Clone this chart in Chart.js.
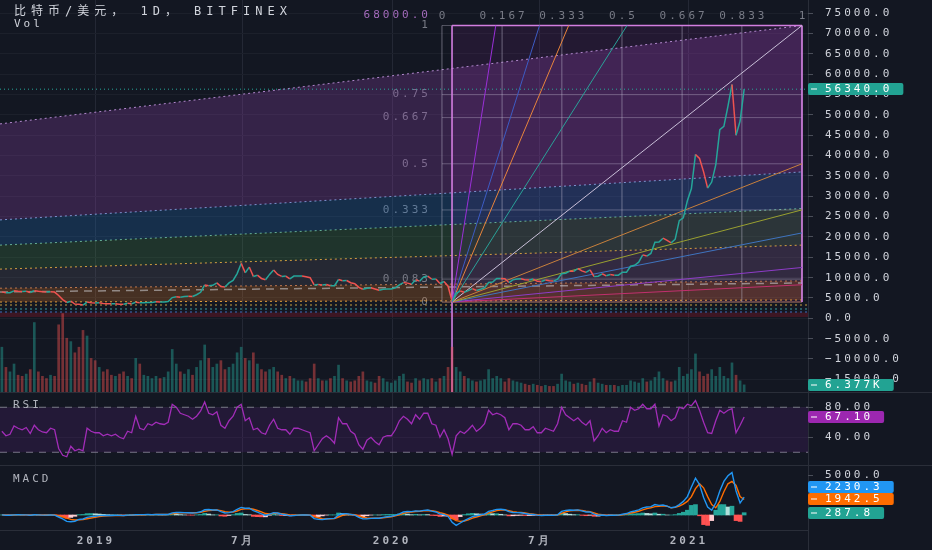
<!DOCTYPE html>
<html>
<head>
<meta charset="utf-8">
<script src="https://cdn.jsdelivr.net/npm/chart.js@4.4.1/dist/chart.umd.min.js"></script>
<style>
  html, body { margin: 0; padding: 0; width: 932px; height: 550px; overflow: hidden; background: #131722; }
  canvas { position: absolute; left: 0; }
  .sep { position: absolute; background: #2a2e39; }
</style>
</head>
<body>
<div class="sep" style="left:0;top:392px;width:932px;height:1px"></div>
<div class="sep" style="left:0;top:465px;width:932px;height:1px"></div>
<div class="sep" style="left:0;top:530px;width:808px;height:1px"></div>
<div class="sep" style="left:808px;top:0;width:1px;height:550px"></div>
<canvas id="main" width="932" height="392" style="top:0"></canvas>
<canvas id="rsi" width="932" height="72" style="top:393px"></canvas>
<canvas id="macd" width="932" height="84" style="top:466px"></canvas>

<script>
// ---- data (one sample every 5 days, day 0 = 2019-01-01) ----
const START_DAY = -116;
const STEP = 5;
const X_MIN = -118.3, X_MAX = 877.7;

const timeTicks = [0, 181, 365, 547, 731];
const timeLabels = ['2019', '7月', '2020', '7月', '2021'];
const priceTicks = [75000, 70000, 65000, 60000, 55000, 50000, 45000, 40000, 35000, 30000,
  25000, 20000, 15000, 10000, 5000, 0, -5000, -10000, -15000];
const rsiTicks = [80, 40];
const macdTicks = [5000];

const closes = [
  6500, 6300, 6300, 6750, 6650, 6600, 6650, 6350, 6800, 6650,
  6550, 6480, 6550, 6450, 5600, 4600, 3900, 4200, 3500, 3450,
  3250, 4000, 3850, 3750, 3850, 3650, 3600, 3550, 3600, 3480,
  3450, 3680, 3600, 3950, 3800, 3850, 3900, 3900, 4050, 4000,
  4000, 4150, 5100, 5300, 5200, 5350, 5450, 5350, 5800, 6400,
  8200, 8000, 8100, 8700, 7800, 7700, 8700, 9300, 11000, 13500,
  11200, 12600, 10300, 10600, 9800, 9500, 10800, 11900, 10800, 10300,
  10400, 9700, 10400, 10400, 10400, 10200, 10000, 8200, 8300, 8200,
  8300, 8000, 8000, 9550, 9250, 9300, 8750, 8500, 7600, 7150,
  7400, 7500, 7200, 6900, 7150, 7200, 7200, 7500, 8200, 8800,
  8650, 8400, 9500, 9150, 10150, 10350, 9600, 9650, 8550, 9050,
  7900, 4200, 6200, 6700, 6400, 6800, 7300, 6850, 7150, 7500,
  8800, 8900, 9800, 9800, 9750, 8800, 9450, 9650, 9750, 9450,
  9400, 9650, 9100, 9050, 9400, 9250, 9150, 9600, 10950, 11100,
  11600, 11550, 12250, 11650, 11300, 11900, 10250, 10350, 10950, 10450,
  10750, 10600, 10600, 11350, 11350, 12800, 13050, 13800, 15600, 15300,
  15950, 18700, 18750, 19700, 19150, 18550, 19450, 24000, 24700, 28900,
  31900, 40300, 39300, 36000, 32000, 33500, 37700, 46400, 47200, 52100,
  57500, 45000, 48500, 56340
];

// volume in K
const volumes = [
  40, 22, 18, 25, 15, 14, 16, 20, 62, 18,
  14, 12, 15, 14, 60, 70, 48, 45, 35, 40,
  55, 50, 30, 28, 22, 18, 20, 15, 14, 16,
  18, 14, 12, 30, 25, 15, 14, 12, 14, 12,
  13, 18, 38, 25, 18, 16, 20, 15, 22, 28,
  42, 30, 22, 25, 28, 20, 22, 25, 35, 40,
  30, 28, 35, 25, 20, 18, 20, 22, 18, 15,
  12, 14, 12, 10, 10, 9, 12, 25, 12, 10,
  10, 12, 14, 24, 12, 10, 9, 10, 14, 18,
  10, 9, 8, 14, 12, 9, 8, 10, 14, 16,
  9, 8, 12, 10, 12, 11, 12, 9, 12, 14,
  22, 40, 22, 18, 14, 12, 10, 9, 10, 11,
  20, 12, 14, 12, 9, 12, 10, 9, 8, 7,
  6, 7, 6, 5, 6, 5, 5, 7, 16, 10,
  9, 7, 8, 7, 6, 9, 12, 8, 7, 6,
  6, 6, 5, 6, 6, 10, 9, 8, 12, 9,
  10, 13, 18, 12, 10, 9, 10, 22, 14, 16,
  20, 34, 18, 14, 16, 20, 14, 22, 14, 12,
  26, 15, 10, 6.377
];

const rsi = [
  48, 42, 44, 55, 52, 50, 53, 45, 56, 50,
  47, 46, 52, 50, 25, 16, 14, 28, 22, 24,
  22, 52, 48, 46, 46, 42, 44, 42, 44, 40,
  38, 48, 46, 68, 52, 50, 58, 56, 60, 58,
  57, 60, 84, 80, 72, 70, 68, 64, 68, 75,
  87, 72, 70, 74, 56, 52, 62, 68, 80, 84,
  62, 66, 50, 52, 46, 44, 56, 64, 52, 50,
  50, 44, 52, 52, 50, 48, 46, 22, 30, 38,
  42, 38, 32, 66, 58, 58, 48, 44, 30, 24,
  36, 40, 34, 30, 40, 42, 42, 50, 62, 68,
  64, 58, 70, 64, 72, 72, 58, 56, 40, 50,
  38, 17, 42, 48, 45, 50, 56, 48, 52, 58,
  76, 70, 72, 70, 66, 50, 58, 58, 56, 50,
  50, 54, 46, 46, 52, 50, 48, 58, 80, 70,
  66, 62, 66, 60, 56, 62, 35, 42, 52, 46,
  50, 48, 48, 62, 60, 80, 76, 78, 84, 78,
  78, 84, 55, 70, 68, 62, 66, 80, 78, 84,
  82, 89, 76, 60, 46, 45, 62, 76, 72, 76,
  78, 46, 56, 67.1
];

const macd = [
  20, -30, -40, 20, 40, 20, 10, -30, 30, 20,
  -10, -20, 0, -10, -250, -480, -800, -850, -780, -560,
  -500, -300, -200, -150, -80, -60, -60, -60, -40, -50,
  -60, -20, -10, 40, 50, 50, 60, 50, 60, 60,
  60, 70, 260, 330, 320, 300, 280, 250, 300, 400,
  650, 680, 620, 640, 430, 260, 300, 420, 700, 950,
  850, 850, 550, 350, 150, -50, 100, 300, 250, 100,
  40, -100, -80, -20, 20, 0, -20, -450, -550, -580,
  -500, -450, -420, 0, 150, 160, 80, -20, -300, -480,
  -480, -420, -400, -400, -300, -220, -150, -40, 150, 380,
  450, 420, 520, 480, 580, 620, 480, 380, 120, 40,
  -180, -900, -1300, -1000, -700, -450, -200, -100, 20, 120,
  450, 560, 700, 720, 650, 420, 320, 300, 280, 180,
  100, 60, -20, -60, -40, -40, -40, 30, 450, 580,
  620, 600, 640, 520, 380, 380, 100, -40, 0, -60,
  -40, -30, -20, 100, 180, 400, 500, 650, 900, 1000,
  1050, 1300, 1200, 1250, 1100, 900, 1000, 1300, 1700, 2300,
  3500, 4600, 3800, 2200, 1000, 600, 1500, 3000, 4200, 4900,
  5300, 3000, 1500, 2230.3
];

const signal = [
  10, 0, -20, 0, 20, 20, 15, 0, 10, 15,
  5, -5, -5, -5, -80, -220, -400, -550, -620, -600,
  -570, -470, -380, -300, -200, -140, -100, -80, -60, -55,
  -55, -45, -30, 0, 20, 35, 45, 50, 55, 58,
  60, 63, 140, 220, 270, 290, 290, 275, 280, 330,
  450, 560, 600, 620, 550, 420, 360, 380, 500, 700,
  780, 820, 720, 560, 380, 180, 130, 200, 230, 170,
  100, 10, -30, -30, -5, 0, -10, -180, -350, -470,
  -490, -470, -440, -250, -50, 60, 80, 30, -100, -280,
  -380, -410, -410, -400, -350, -290, -220, -110, 20, 200,
  330, 380, 440, 460, 520, 570, 530, 460, 300, 170,
  0, -400, -700, -800, -750, -600, -400, -250, -100, 40,
  250, 400, 540, 630, 640, 530, 420, 360, 320, 250,
  170, 110, 40, -10, -30, -35, -38, -10, 200, 400,
  520, 560, 600, 560, 470, 420, 260, 100, 40, -10,
  -30, -30, -25, 30, 110, 250, 350, 470, 650, 800,
  900, 1050, 1100, 1150, 1100, 900, 950, 1100, 1350, 1700,
  2300, 3300, 3900, 3400, 2300, 1300, 900, 1700, 2900, 3900,
  4200, 3700, 2300, 1942.5
];

const hist = [
  10, -30, -20, 20, 20, 0, -5, -30, 20, 5,
  -15, -15, 5, -5, -170, -260, -400, -300, -160, 40,
  70, 170, 180, 150, 120, 80, 40, 20, 20, 5,
  -5, 25, 20, 40, 30, 15, 15, 0, 5, 2,
  0, 7, 120, 110, 50, 10, -10, -25, 20, 70,
  200, 120, 20, 20, -120, -160, -60, 40, 200, 250,
  70, 30, -170, -210, -230, -230, -30, 100, 20, -70,
  -60, -110, -50, 10, 25, 0, -10, -270, -200, -110,
  -10, 20, 20, 250, 200, 100, 0, -50, -200, -200,
  -100, -10, 10, 0, 50, 70, 70, 70, 130, 180,
  120, 40, 80, 20, 60, 50, -50, -80, -180, -130,
  -180, -500, -600, -200, 50, 150, 200, 150, 120, 80,
  200, 160, 160, 90, 10, -110, -100, -60, -40, -70,
  -70, -50, -60, -50, -10, -5, -2, 40, 250, 180,
  100, 40, 40, -40, -90, -40, -160, -140, -40, -50,
  -10, 0, 5, 70, 70, 150, 150, 180, 250, 200,
  150, 250, 100, 100, 0, 0, 50, 200, 350, 600,
  1200, 1300, -100, -1200, -1300, -700, 600, 1300, 1300, 1000,
  1100, -700, -800, 287.8
];

// fib channel: price at left edge / at box right edge
const chanLeft = [47800, 24200, 18000, 12100, 7400, 4000];
const chanRight = [72000, 36000, 27000, 18000, 9200, 4500];
const bottomLevels = [3270, 2290, 1550];
const redBand = [1430, 320];
const dashedLine = [6470, 8680];

// gann box
const boxStart = 426.5, boxEnd = 870.3, fanOrigin = 438.9;
const boxLow = 4000, boxHigh = 72000;
const boxTimeLevels = [0, 0.167, 0.333, 0.5, 0.667, 0.833, 1];
const boxPriceLevels = [0, 0.083, 0.333, 0.5, 0.667, 0.75, 1];
const fanTop = [8, 4, 3, 2, 1];
const fanRight = [2, 3, 4, 8, 16];

const lastPrice = 56340;

// ---- styles ----
const UP = '#26a69a', DOWN = '#ef5350';
const MONO = '"DejaVu Sans Mono", "Liberation Mono", monospace';
const TICK_COLOR = '#d1d4dc';
const GRID_X = '#242835';
const PINK = '#d27ee0';
const Y_MIN = -18120, Y_MAX = 78270;
const fanTopColors = ['#9b30d9', '#3d5cc4', '#e8843c', '#2aa198', '#c9bfd8'];
const fanRightColors = ['#c8803c', '#9aa030', '#3f74c0', '#8e3cc8', '#c2306e'];
const chanLineColors = ['#b48ad0', '#7aa4d8', '#6fb892', '#e0a040', '#c8784a', '#e0a040'];
const chanFills = ['rgba(142,68,173,0.28)', 'rgba(33,120,200,0.25)', 'rgba(76,160,80,0.22)',
  'rgba(120,123,134,0.18)', 'rgba(255,140,40,0.22)'];
const bottomColors = ['#c8a040', '#40a0a0', '#4070c0'];

const days = closes.map((_, i) => START_DAY + STEP * i);
const pts = arr => arr.map((v, i) => ({ x: days[i], y: v }));

function fmt(v, digits) {
  const s = Math.abs(v).toFixed(digits);
  return v < 0 ? '\u2212' + s : s;
}

function seg(x0, y0, x1, y1, color, extra) {
  return Object.assign({
    type: 'line', data: [{ x: x0, y: y0 }, { x: x1, y: y1 }],
    borderColor: color, borderWidth: 1, pointRadius: 0, fill: false, order: 3
  }, extra || {});
}

// no extra margins from tick labels: panes must fill their canvas exactly
function noPad(s) {
  s.paddingTop = 0; s.paddingBottom = 0; s.paddingLeft = 0; s.paddingRight = 0;
}

function xScale(showTicks) {
  return {
    type: 'linear', min: X_MIN, max: X_MAX, offset: false,
    afterBuildTicks: s => { s.ticks = timeTicks.map(v => ({ value: v })); },
    afterFit: s => { s.height = showTicks ? 20 : 0; noPad(s); },
    grid: { color: GRID_X, drawTicks: false, offset: false },
    border: { display: false },
    ticks: {
      display: showTicks, autoSkip: false, maxRotation: 0, padding: 5,
      color: '#b2b5be', font: { family: MONO, size: 11, weight: 'bold' },
      callback: (v, i) => timeLabels[i]
    }
  };
}

function yScale(min, max, ticks, digits, gridColor) {
  return {
    type: 'linear', position: 'right', min: min, max: max,
    afterBuildTicks: s => { s.ticks = ticks.map(v => ({ value: v })); },
    afterFit: s => { s.width = 124; noPad(s); },
    grid: { color: gridColor, drawTicks: true, tickLength: 5, tickColor: '#4a4e59' },
    border: { display: false },
    ticks: { padding: 12, color: TICK_COLOR, font: { family: MONO, size: 11 }, callback: v => fmt(v, digits) }
  };
}

// wide letter spacing like the reference
const spacing = { id: 'spacing', beforeDraw(chart) { chart.ctx.letterSpacing = '3px'; } };

// coloured value tags on the price scale
function tagPlugin(items) {
  return {
    id: 'tags',
    afterDraw(chart) {
      const ctx = chart.ctx;
      ctx.save();
      ctx.font = '11px ' + MONO;
      ctx.letterSpacing = '3px';
      ctx.textBaseline = 'middle';
      ctx.textAlign = 'left';
      const ys = items.map(t => chart.scales[t.axis].getPixelForValue(t.value));
      const idx = ys.map((y, i) => i).sort((a, b) => ys[b] - ys[a]);
      for (let k = 1; k < idx.length; k++) {
        const prev = ys[idx[k - 1]];
        if (ys[idx[k]] > prev - 12) ys[idx[k]] = prev - 12;
      }
      items.forEach((t, i) => {
        const y = Math.round(ys[i]);
        const w = 17 + ctx.measureText(t.text).width + 11;
        ctx.fillStyle = t.color;
        ctx.beginPath();
        ctx.roundRect(808, y - 6, w, 12, 2);
        ctx.fill();
        ctx.fillStyle = '#ffffff';
        ctx.fillRect(811, y - 0.5, 6, 1);
        ctx.fillText(t.text, 825, y + 0.5);
      });
      ctx.restore();
    }
  };
}

function paneLabel(text, y) {
  return {
    id: 'paneLabel',
    afterDraw(chart) {
      const ctx = chart.ctx;
      ctx.save();
      ctx.font = '11px ' + MONO;
      ctx.letterSpacing = '3px';
      ctx.fillStyle = '#b2b5be';
      ctx.textBaseline = 'middle';
      ctx.fillText(text, 13, y);
      ctx.restore();
    }
  };
}

const gannLabels = {
  id: 'gannLabels',
  beforeDatasetsDraw(chart) {
    const { ctx, scales: { x, y } } = chart;
    ctx.save();
    ctx.font = '11px ' + MONO;
    ctx.letterSpacing = '3px';
    ctx.fillStyle = '#787b86';
    ctx.textBaseline = 'middle';
    ctx.textAlign = 'center';
    boxTimeLevels.forEach(f => ctx.fillText(String(f), x.getPixelForValue(boxStart + f * (boxEnd - boxStart)) + 1.5, 16));
    ctx.textAlign = 'right';
    const lx = x.getPixelForValue(boxStart) - 11;
    boxPriceLevels.forEach(f => ctx.fillText(String(f), lx, y.getPixelForValue(boxLow + f * (boxHigh - boxLow))));
    ctx.fillStyle = '#a36bbb';
    ctx.fillText((boxHigh - boxLow).toFixed(1), lx, 15);
    ctx.restore();
  }
};

const titlePlugin = {
  id: 'titleText',
  afterDraw(chart) {
    const ctx = chart.ctx;
    ctx.save();
    ctx.font = '12px "DejaVu Sans Mono", "Noto Sans CJK SC", monospace';
    ctx.letterSpacing = '5px';
    ctx.fillStyle = '#d1d4dc';
    ctx.textBaseline = 'middle';
    ctx.fillText('比特币/美元， 1D， BITFINEX', 14, 12);
    ctx.font = '11px ' + MONO;
    ctx.letterSpacing = '3px';
    ctx.fillText('Vol', 14, 24);
    ctx.restore();
  }
};

const common = {
  responsive: false,
  animation: false,
  events: [],
  layout: { padding: 0, autoPadding: false },
  plugins: { legend: { display: false }, tooltip: { enabled: false } }
};

// ---- main pane ----
const mainSets = [];
mainSets.push({
  type: 'line', data: pts(closes), borderWidth: 1.5, pointRadius: 0, borderColor: UP,
  segment: { borderColor: c => (c.p1.parsed.y >= c.p0.parsed.y ? UP : DOWN) }, order: 0
});
mainSets.push({
  type: 'bar', yAxisID: 'yv', data: pts(volumes), barThickness: 2,
  backgroundColor: volumes.map((v, i) => (i && closes[i] < closes[i - 1] ? 'rgba(239,83,80,0.45)' : 'rgba(38,166,154,0.45)')),
  order: 1
});
fanTop.forEach((r, k) => mainSets.push(seg(fanOrigin, boxLow, fanOrigin + (boxEnd - fanOrigin) / r, boxHigh, fanTopColors[k], { order: 2 })));
fanRight.forEach((r, k) => mainSets.push(seg(fanOrigin, boxLow, boxEnd, boxLow + (boxHigh - boxLow) / r, fanRightColors[k], { order: 2 })));
mainSets.push(seg(fanOrigin, boxHigh, fanOrigin, Y_MIN, PINK, { borderWidth: 1.6, order: 2 }));
mainSets.push(seg(fanOrigin, boxHigh, boxEnd, boxHigh, PINK, { borderWidth: 1.6, order: 2 }));
mainSets.push(seg(boxEnd, boxHigh, boxEnd, boxLow, PINK, { borderWidth: 1.6, order: 2 }));
boxTimeLevels.forEach(f => {
  const d = boxStart + f * (boxEnd - boxStart);
  mainSets.push(seg(d, boxLow, d, boxHigh, 'rgba(200,195,215,0.45)'));
});
boxPriceLevels.forEach(f => {
  const p = boxLow + f * (boxHigh - boxLow);
  mainSets.push(seg(boxStart, p, boxEnd, p, f === 0 ? 'rgba(235,160,130,0.7)' : 'rgba(200,195,215,0.35)'));
});
mainSets.push(seg(X_MIN, lastPrice, X_MAX, lastPrice, UP, { borderDash: [1, 3], order: 2 }));
chanLeft.forEach((v, k) => mainSets.push(seg(X_MIN, v, boxEnd, chanRight[k], chanLineColors[k], {
  borderDash: [2, 3], order: 4, fill: k < chanFills.length ? '+1' : false, backgroundColor: chanFills[k] || 'transparent'
})));
bottomLevels.forEach((v, k) => mainSets.push(seg(X_MIN, v, X_MAX, v, bottomColors[k], { borderDash: [2, 3], order: 4 })));
mainSets.push(seg(X_MIN, redBand[0], X_MAX, redBand[0], 'rgba(0,0,0,0)', {
  fill: { value: redBand[1] }, backgroundColor: 'rgba(160,20,40,0.3)', order: 4
}));
mainSets.push(seg(X_MIN, dashedLine[0], boxEnd, dashedLine[1], 'rgba(210,210,215,0.55)', { borderDash: [8, 6], borderWidth: 1.5, order: 3 }));
mainSets.push(seg(fanOrigin, boxHigh, boxEnd, boxHigh, 'rgba(0,0,0,0)', {
  fill: { value: boxLow }, backgroundColor: 'rgba(156,39,176,0.12)', order: 5
}));

new Chart(document.getElementById('main'), {
  type: 'line',
  data: { datasets: mainSets },
  options: Object.assign({}, common, {
    scales: {
      x: xScale(false),
      y: yScale(Y_MIN, Y_MAX, priceTicks, 1, '#1c202b'),
      yv: { type: 'linear', display: false, min: 0, max: 350 }
    }
  }),
  plugins: [spacing, gannLabels, titlePlugin, tagPlugin([
    { axis: 'y', value: lastPrice, text: '56340.0', color: '#22a393' },
    { axis: 'yv', value: volumes[volumes.length - 1], text: '6.377K', color: '#22a393' }
  ])]
});

// ---- RSI pane ----
new Chart(document.getElementById('rsi'), {
  type: 'line',
  data: {
    datasets: [
      { data: pts(rsi), borderColor: '#a22db8', borderWidth: 1.3, pointRadius: 0, order: 0 },
      seg(X_MIN, 80, X_MAX, 80, '#787b86', { borderDash: [7, 6], fill: { value: 20 }, backgroundColor: 'rgba(126,40,170,0.16)', order: 2 }),
      seg(X_MIN, 20, X_MAX, 20, '#787b86', { borderDash: [7, 6], order: 2 })
    ]
  },
  options: Object.assign({}, common, {
    scales: { x: xScale(false), y: yScale(3, 99, rsiTicks, 2, '#1c202b') }
  }),
  plugins: [spacing, paneLabel('RSI', 12), tagPlugin([
    { axis: 'y', value: rsi[rsi.length - 1], text: '67.10', color: '#9c27b0' }
  ])]
});

// ---- MACD pane ----
new Chart(document.getElementById('macd'), {
  type: 'line',
  data: {
    datasets: [
      { data: pts(macd), borderColor: '#2196f3', borderWidth: 1.4, pointRadius: 0, order: 0 },
      { data: pts(signal), borderColor: '#ff6d00', borderWidth: 1.4, pointRadius: 0, order: 1 },
      {
        type: 'bar', data: pts(hist), barThickness: 4, order: 2,
        backgroundColor: hist.map((h, i) => {
          const p = i ? hist[i - 1] : 0;
          if (h >= 0) return h >= p ? '#26a69a' : '#b2dfdb';
          return h < p ? '#ff5252' : '#ffcdd2';
        })
      }
    ]
  },
  options: Object.assign({}, common, {
    scales: { x: xScale(true), y: yScale(-1875, 6125, macdTicks, 1, 'rgba(0,0,0,0)') }
  }),
  plugins: [spacing, paneLabel('MACD', 13), tagPlugin([
    { axis: 'y', value: macd[macd.length - 1], text: '2230.3', color: '#2196f3' },
    { axis: 'y', value: signal[signal.length - 1], text: '1942.5', color: '#ff6d00' },
    { axis: 'y', value: hist[hist.length - 1], text: '287.8', color: '#22a393' }
  ])]
});
</script>
</body>
</html>
